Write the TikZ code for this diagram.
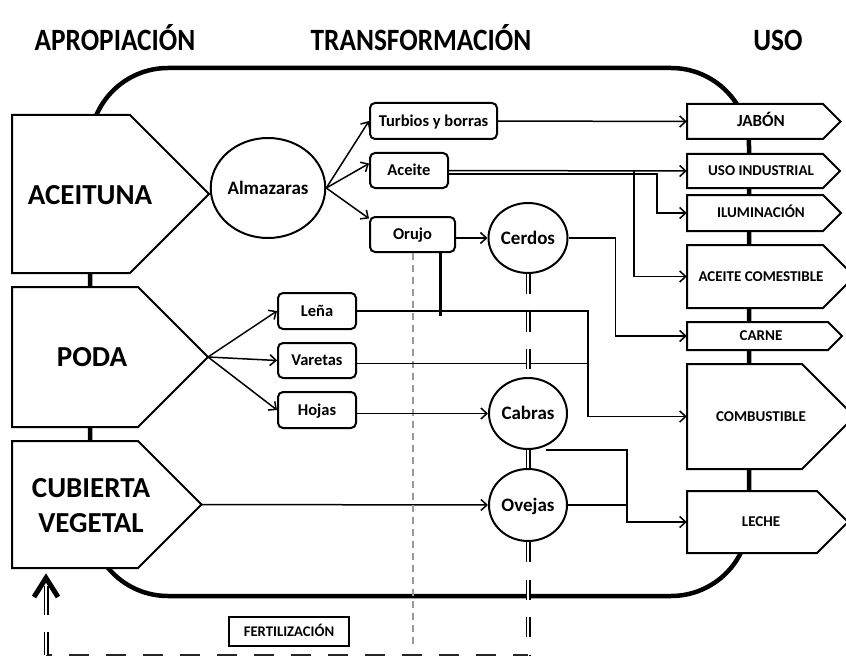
\documentclass[tikz,border=0pt]{standalone}
\usepackage{fontspec}
\setmainfont{Carlito}
\usepackage{graphicx}
\usetikzlibrary{arrows.meta,calc,shapes.geometric}
\begin{document}
\begin{tikzpicture}[x=1pt,y=-1pt,
  every node/.style={inner sep=0pt, text=black},
  title/.style={font=\fontsize{31}{34}\selectfont\bfseries, text height=20pt, text depth=0pt},
  srclab/.style={font=\fontsize{29}{35}\selectfont\bfseries, align=center},
  frame/.style={line width=4.5pt, rounded corners=78pt},
  pent/.style={draw, line width=2pt, fill=white, line join=miter},
  rbox/.style={draw, line width=2pt, rounded corners=5pt, fill=white,
    font=\fontsize{16.5}{18}\selectfont\bfseries, text height=10.6pt, text depth=0pt},
  circ/.style={ellipse, draw, line width=2pt, fill=white,
    font=\fontsize{19}{21}\selectfont\bfseries, text height=12.2pt, text depth=0pt},
  usetext/.style={font=\fontsize{15}{16}\selectfont\bfseries, minimum width=148pt,
    text height=9.7pt, text depth=0pt},
  conn/.style={line width=1.5pt},
  arr/.style={conn, -{Straight Barb[length=6pt,width=11pt]}},
  thickln/.style={line width=3pt},
  graydash/.style={line width=2pt, draw=black!40, dash pattern=on 7pt off 5pt},
  dbl/.style={draw=black, double=white, line width=1.3pt, double distance=2.4pt},
  dashdbl/.style={dbl, dash pattern=on 20pt off 17.5pt},
  botdash/.style={line width=2.5pt, draw=black!85, dash pattern=on 20pt off 17pt, dash phase=5pt},
  chev/.style={line width=5pt, line join=miter},
  fertbox/.style={draw, line width=2.2pt, fill=white, minimum width=120pt, minimum height=29pt,
    font=\fontsize{14.7}{16}\selectfont\bfseries, text height=9.5pt, text depth=0pt}
]
\useasboundingbox (0,0) rectangle (846,658);
\clip (0,0) rectangle (846,658);
\fill[white] (0,0) rectangle (846,658);

% titles
\node[title] (tA) at (115,41) {\scalebox{0.88}[1]{APROPIACIÓN}};
\node[title] (tT) at (421,41) {\scalebox{0.88}[1]{TRANSFORMACIÓN}};
\node[title] (tU) at (778,41) {\scalebox{0.88}[1]{USO}};

% frame
\draw[frame] (90,68) rectangle (749,596);

% left source boxes
\coordinate (aceTip) at (209,194);
\coordinate (podaTip) at (208,357);
\coordinate (cubTip) at (201.5,504.5);
\draw[pent] (12,115) -- (130,115) -- (aceTip) -- (130,273) -- (12,273) -- cycle;
\draw[pent] (12,287) -- (138,287) -- (podaTip) -- (138,427) -- (12,427) -- cycle;
\draw[pent] (12,441) -- (138,441) -- (cubTip) -- (138,568) -- (12,568) -- cycle;
\node[srclab] (aceituna) at (90,195) {ACEITUNA};
\node[srclab] (poda) at (92,357) {PODA};
\node[srclab] (cubierta) at (91,505.5) {CUBIERTA\\VEGETAL};

% right use boxes
\draw[pent] (687,104) -- (823,104) -- (840.5,121.5) -- (823,139) -- (687,139) -- cycle;
\draw[pent] (687,154) -- (823,154) -- (840,171) -- (823,188) -- (687,188) -- cycle;
\draw[pent] (687,195) -- (823,195) -- (841,213) -- (823,231) -- (687,231) -- cycle;
\draw[pent] (687,245) -- (823,245) -- (854.5,276.5) -- (823,308) -- (687,308) -- cycle;
\draw[pent] (687,322) -- (828,322) -- (842,336) -- (828,350) -- (687,350) -- cycle;
\draw[pent] (687,364) -- (802,364) -- (854.5,416.5) -- (802,469) -- (687,469) -- cycle;
\draw[pent] (687,491) -- (817,491) -- (848,522) -- (817,553) -- (687,553) -- cycle;
\node[usetext, font=\fontsize{17}{19}\selectfont\bfseries, text height=11pt] (jabon) at (761,121.5) {JABÓN};
\node[usetext] (usoind) at (761,171) {USO INDUSTRIAL};
\node[usetext] (ilum) at (761,213) {ILUMINACIÓN};
\node[usetext] (acecom) at (761,276.5) {ACEITE COMESTIBLE};
\node[usetext] (carne) at (761,336) {CARNE};
\node[usetext] (combust) at (761,416.5) {COMBUSTIBLE};
\node[usetext] (leche) at (761,522) {LECHE};

% circles
\node[circ, minimum width=106pt, minimum height=100pt] (almazaras) at (268,188) {Almazaras};
\node[circ, minimum width=79pt, minimum height=70pt] (cerdos) at (528,238) {Cerdos};
\node[circ, minimum width=78pt, minimum height=71pt] (cabras) at (528,413.5) {Cabras};
\node[circ, minimum width=78pt, minimum height=72pt] (ovejas) at (528,505) {Ovejas};

% rounded boxes
\node[rbox, minimum width=127pt, minimum height=36pt] (turbios) at (433.5,121) {Turbios y borras};
\node[rbox, minimum width=78pt, minimum height=35pt] (aceite) at (409,170.5) {Aceite};
\node[rbox, minimum width=85pt, minimum height=35pt] (orujo) at (412.5,234.5) {Orujo};
\node[rbox, minimum width=78pt, minimum height=36pt] (lena) at (317,311) {Leña};
\node[rbox, minimum width=78pt, minimum height=35pt] (varetas) at (317,360.5) {Varetas};
\node[rbox, minimum width=78pt, minimum height=36pt] (hojas) at (317,410) {Hojas};

% fertilization
\node[fertbox] (fert) at (289,631.5) {FERTILIZACIÓN};

% connectors
\draw[arr] (almazaras.east) -- (turbios.west);
\draw[arr] (almazaras.east) -- ($(aceite.west)+(0,-7)$);
\draw[arr] (almazaras.east) -- ($(orujo.west)+(0,-16)$);
\draw[arr] (podaTip) -- (lena.west);
\draw[arr] (podaTip) -- (varetas.west);
\draw[arr] (podaTip) -- (hojas.west);
\draw[arr] (cubTip) -- (ovejas.west);
\draw[arr] (turbios.east) -- (jabon.west);
\draw[arr] (aceite.east) -- (usoind.west);
\draw[arr] (aceite.east) -- ++(185,0) |- (acecom.west);
\draw[arr] ([yshift=-3.5pt]aceite.east) -- ++(208,0) |- (ilum.west);
\draw[arr] (orujo.east |- cerdos.west) -- (cerdos.west);
\draw[thickln] ([xshift=27.5pt]orujo.south) -- ++(0,63);
\draw[graydash] (orujo.south) -- ++(0,396);
\coordinate (fuelX) at (588,0);
\draw[arr] (lena.east) -- (fuelX |- lena.east) |- (combust.west);
\draw[conn] ([yshift=-3pt]varetas.east) -- ++(232,0);
\draw[arr] (hojas.east |- cabras.west) -- (cabras.west);
\draw[arr] (cerdos.east) -- ++(47,0) |- (carne.west);
\draw[arr] ([xshift=18pt]cabras.south) -- ++(81,0) |- (leche.west);
\draw[conn] (ovejas.east) -- ++(60,0);

% fertilization loop
\coordinate (fertBase) at (46,655);
\coordinate (fertTip) at (46,578);
\draw[dashdbl] (cerdos.south) -- (cabras.north);
\draw[dbl] (cabras.south) -- (ovejas.north);
\draw[dashdbl] (ovejas.south) -- (ovejas.south |- fertBase);
\draw[botdash] (ovejas.south |- fertBase) -- (fertBase);
\draw[dbl, dash pattern=on 23pt off 17pt on 30pt off 10pt] (fertBase) -- ++(0,-69);
\draw[chev] ($(fertTip)+(-12,19)$) -- (fertTip) -- ($(fertTip)+(12,19)$);
\end{tikzpicture}
\end{document}
